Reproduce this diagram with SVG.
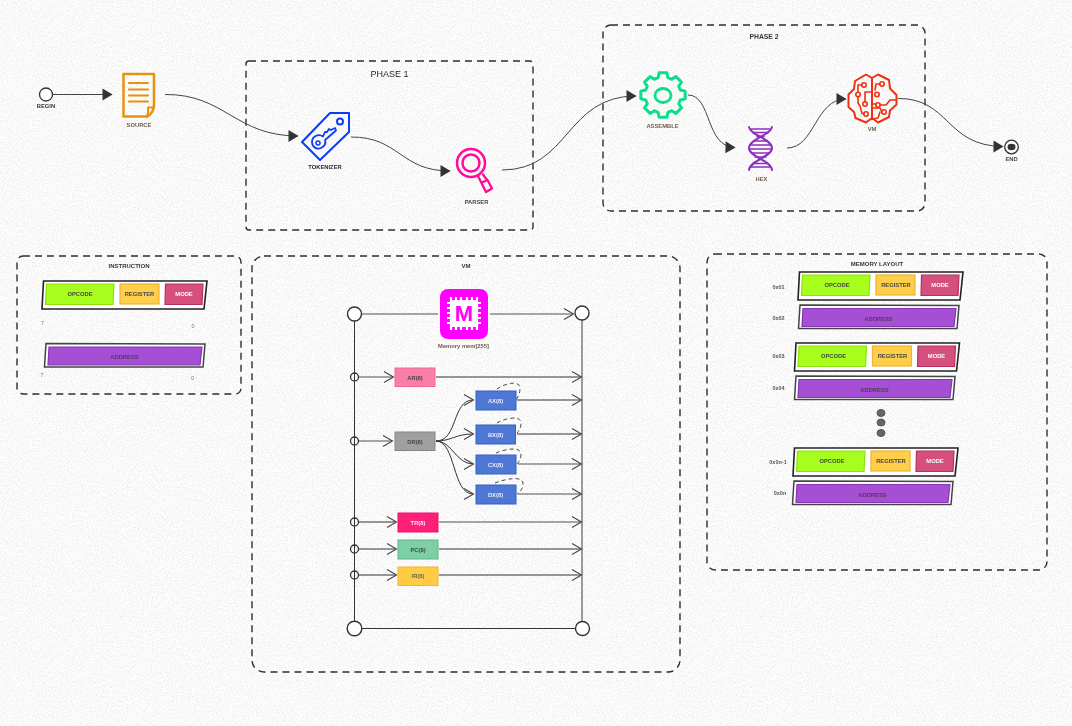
<svg xmlns="http://www.w3.org/2000/svg" width="1072" height="726" viewBox="0 0 1072 726">
<style>
text{font-family:"Liberation Sans",Arial,sans-serif;text-anchor:middle;font-weight:bold;font-size:5.8px;fill:#444;opacity:.98}
.frame{fill:none;stroke:#2e2e2e;stroke-width:1.4;stroke-dasharray:7 5}
.t{font-size:6px;fill:#333}
.lab{fill:#6b5a48}
.outer{fill:#fff;stroke:#222;stroke-width:1.6}
.outer2{fill:#fff;stroke:#444;stroke-width:1.5}
.op{fill:#a8ff1e;stroke:#8ee010;stroke-width:1.2}
.reg{fill:#ffce4a;stroke:#efb32f;stroke-width:1.2}
.mode{fill:#d6507e;stroke:#b8305f;stroke-width:1.2}
.addr{fill:#a64fd4;stroke:#8635b5;stroke-width:1.2}
.box{stroke-width:1}
.blue{fill:#4f78d4;stroke:#3560bf}
.w{fill:#eef}
.bit{font-weight:normal;fill:#777;font-size:5.5px}
.ad{fill:#555;font-size:5.5px}
.solid{fill:none;stroke:#444;stroke-width:1;marker-end:url(#tri)}
.thin{fill:none;stroke:#333;stroke-width:1;marker-end:url(#open)}
.thick{fill:none;stroke:#888;stroke-width:1.6;marker-end:url(#open)}
.bar{fill:none;stroke:#333;stroke-width:1}
.loop{fill:none;stroke:#333;stroke-width:.9;stroke-dasharray:4 3}
.port{fill:#fff;stroke:#333;stroke-width:1.4}
.tap{fill:none;stroke:#333;stroke-width:1.3}
.ic{fill:none;stroke-width:2;stroke-linejoin:round;stroke-linecap:round}
</style>
<defs>
<filter id="noise" x="0" y="0" width="100%" height="100%"><feTurbulence type="fractalNoise" baseFrequency="0.8" numOctaves="2" seed="4"/><feColorMatrix type="matrix" values="0 0 0 0 0.5 0 0 0 0 0.5 0 0 0 0 0.5 0.5 0.5 0 0 -0.42"/></filter>
<marker id="tri" markerUnits="userSpaceOnUse" markerWidth="11" markerHeight="13" refX="9.5" refY="6" orient="auto" overflow="visible"><path d="M0 0L10 6L0 12Z" fill="#333" stroke="none"/></marker>
<marker id="open" markerUnits="userSpaceOnUse" markerWidth="12" markerHeight="12" refX="9" refY="6" orient="auto" overflow="visible"><path d="M0 .5L9.500 6L0 11.500" fill="none" stroke="#444" stroke-width="1.100"/></marker>
</defs>
<rect id="background" width="1072" height="726" fill="#fff"/>
<rect width="1072" height="726" filter="url(#noise)"/>

<g id="frames">
<rect id="phase1" class="frame" x="246" y="61" width="287" height="169" rx="3"/>
<rect id="phase2" class="frame" x="603" y="25" width="322" height="186" rx="8"/>
<rect id="instruction" class="frame" x="17" y="256" width="224" height="138" rx="6"/>
<rect id="vm-frame" class="frame" x="252" y="256" width="428" height="416" rx="12"/>
<rect id="memory-layout" class="frame" x="707" y="254" width="340" height="316" rx="8"/>
<text x="389.500" y="77" style="font-size:9px;font-weight:normal;fill:#222">PHASE 1</text>
<text x="764" y="39" class="t" style="font-size:6.8px">PHASE 2</text>
<text x="129" y="268" class="t">INSTRUCTION</text>
<text x="466" y="268" class="t">VM</text>
<text x="877" y="266" class="t">MEMORY LAYOUT</text>
</g>

<g id="connectors">
<path class="solid" d="M53 94.500H112"/>
<path class="solid" d="M165 94.500C225 94 235 136 298 136"/>
<path class="solid" d="M351 137C400 137 400 171 450 171"/>
<path class="solid" d="M502 170C570 170 565 96 636 96"/>
<path class="solid" d="M688 95C712 95 705 147 735 147.500"/>
<path class="solid" d="M787 148C815 148 815 99 846 99"/>
<path class="solid" d="M898 98.500C950 98 945 146 1003 146.500"/>
<path class="bar" d="M354.500 321V621M361.500 628.500H575.500"/>
<path class="bar" style="stroke:#666;stroke-width:1.3" d="M582 320V621"/>
<path class="bar" style="stroke:#888;stroke-width:1.6" d="M362 314H438"/>
<path class="thick" d="M490 314H573"/>
<path class="thick" d="M359 377H393"/>
<path class="thick" d="M359 441H392"/>
<path class="thin" d="M359 522H396"/>
<path class="thin" d="M359 549H396"/>
<path class="thin" d="M359 575H396"/>
<path class="thin" d="M436 377H581"/>
<path class="thin" d="M517 400H581"/>
<path class="thin" d="M517 434H581"/>
<path class="thick" d="M518 464H581"/>
<path class="thick" d="M518 494H581"/>
<path class="thick" d="M439 522H581"/>
<path class="thin" d="M439 549H581"/>
<path class="thin" d="M439 575H581"/>
<path class="thin" d="M436 441C458 441 452 400 473 400"/>
<path class="thin" d="M436 441C452 441 455 434 473 434"/>
<path class="thin" d="M436 441C452 441 456 464 473 464"/>
<path class="thin" d="M436 441C456 441 452 494 473 494"/>
<path class="loop" d="M497 389C505 383 520 380 520 388C520 394 518 397 516 400"/>
<path class="loop" d="M497 423C505 418 521 415 521 423C521 428 519 431 517 433"/>
<path class="loop" d="M496 453C505 449 521 446 521 454C521 459 519 462 517 464"/>
<path class="loop" d="M495 483C505 479 523 475 523 484C523 489 520 492 517 494"/>
</g>

<g id="begin"><circle cx="46" cy="94.500" r="6.500" fill="#fff" stroke="#333" stroke-width="1.300"/><text x="46" y="108" style="fill:#333">BEGIN</text></g>
<g id="end"><circle cx="1011.500" cy="147" r="6.800" fill="#fff" stroke="#333" stroke-width="1.300"/><ellipse cx="1011.500" cy="147" rx="4" ry="3.300" fill="#333"/><text x="1011.500" y="161" style="fill:#444">END</text></g>

<g id="source">
<path class="ic" stroke="#e8920c" style="stroke-width:2.500" d="M123.500 74H154V105C154 110 151 115 147 116.500H123.500Z"/>
<path class="ic" stroke="#e8920c" d="M147 116.500C149 112 148 108 148 107.500H154"/>
<path class="ic" stroke="#e8920c" style="stroke-width:2.200" d="M129 83H148M129 89.500H148M129 95.500H148M129 101.500H148"/>
<text x="139" y="126.500" class="lab">SOURCE</text>
</g>
<g id="tokenizer">
<path class="ic" stroke="#0a3cff" d="M330 113H349V132L320 160L302 142Z"/>
<circle class="ic" stroke="#0a3cff" cx="340" cy="121.500" r="3"/>
<path class="ic" stroke="#0a3cff" style="stroke-width:1.800" d="M323 136.500C318 133 312 137 312 142C312 147 317 150 321 148C325 146 326 143 325 140L336 130.500L335 128L331 130L329 129L327 132L325 132L323 136.500Z"/>
<circle class="ic" stroke="#0a3cff" style="stroke-width:1.500" cx="318" cy="143" r="2"/>
<text x="325" y="169" style="fill:#223">TOKENIZER</text>
</g>
<g id="parser">
<circle class="ic" stroke="#ff0a9c" style="stroke-width:2.500" cx="471" cy="163" r="14"/>
<circle class="ic" stroke="#ff0a9c" style="stroke-width:2.500" cx="471" cy="163" r="8.500"/>
<path class="ic" stroke="#ff0a9c" style="stroke-width:2.300" d="M478 176L481.500 183L486 192L492 188.500L487.500 180L482 182.500M483 174.500L487 180"/>
<text x="476.500" y="204" class="lab" style="fill:#444">PARSER</text>
</g>
<g id="assemble">
<polygon class="ic" stroke="#0adf8a" style="stroke-width:3" transform="translate(663 95)" points="22.160,3.900 17.300,4.960 15.740,8.730 18.430,12.900 12.900,18.430 8.730,15.740 4.960,17.300 3.900,22.160 -3.900,22.160 -4.960,17.300 -8.730,15.740 -12.900,18.430 -18.430,12.900 -15.740,8.730 -17.300,4.960 -22.160,3.900 -22.160,-3.900 -17.300,-4.960 -15.740,-8.730 -18.430,-12.900 -12.900,-18.430 -8.730,-15.740 -4.960,-17.300 -3.900,-22.160 3.900,-22.160 4.960,-17.300 8.730,-15.740 12.900,-18.430 18.430,-12.900 15.740,-8.730 17.300,-4.960 22.160,-3.900"/>
<ellipse class="ic" stroke="#0adf8a" style="stroke-width:2.800" cx="663" cy="95.500" rx="8" ry="7"/>
<text x="662.500" y="127.500" class="lab">ASSEMBLE</text>
</g>
<g id="hex">
<path class="ic" stroke="#8a2fbc" d="M749 127C750 135 772 139 772 148C772 157 750 160 749 170M772 127C771 135 749 139 749 148C749 157 771 160 772 170"/>
<path class="ic" stroke="#8a2fbc" style="stroke-width:1.500" d="M751 129H770M753 132.500H768M757 136.500H764M754 141H767M750 145H771M750 149H771M752 153H769M755 157H766M754 163.500H767M751 167H770"/>
<text x="761.500" y="180.500" class="lab">HEX</text>
</g>
<g id="vm">
<path class="ic" stroke="#f03010" d="M872 78L866 74.500L855 81L854 89L848.500 94.500V107L854 112L855.500 118L866 122.500L872 118L878 122.500L889 117L890 110.500L896.500 104.500V95L890 88.500L889 80L878 74.500L872 78V118"/>
<g class="ic" stroke="#f03010" style="stroke-width:1.600">
<circle cx="864" cy="85" r="2.200"/><circle cx="858" cy="94.500" r="2.200"/><circle cx="865" cy="104" r="2.200"/><circle cx="866" cy="114" r="2.200"/>
<circle cx="882" cy="84" r="2.200"/><circle cx="877" cy="94.500" r="2.200"/><circle cx="878" cy="105" r="2.200"/><circle cx="884" cy="112" r="2.200"/>
<path d="M862 85H858V92M858 97V103L860 106L862 113.500H864M872 92H865V102M880 84H876L875 90M872 104H876M880 105H886L890 100H896M872 108H880L882 112M872 119L878 118L880 112"/>
</g>
<text x="872" y="131" class="lab">VM</text>
</g>

<g id="memory">
<rect x="440" y="289" width="48" height="50" rx="8" fill="#f0f"/>
<rect x="451" y="300" width="26" height="27" fill="#fff"/>
<path d="M451 297V330M456 297V330M461 297V330M467 297V330M472 297V330M477 297V330M447 303H481M447 308H481M447 313H481M447 318H481M447 323H481" stroke="#fff" stroke-width="2.200"/>
<rect x="451" y="300" width="26" height="27" fill="#fff"/>
<text x="464" y="321" style="font-size:22px;fill:#f0f;opacity:1">M</text>
<text x="463.500" y="348" class="lab">Memory mem[255]</text>
</g>

<g id="ports">
<circle class="port" cx="354.500" cy="314" r="7"/><circle class="port" cx="582" cy="313" r="7"/>
<circle class="port" cx="354.500" cy="628.500" r="7.300"/><circle class="port" cx="582.500" cy="628.500" r="7"/>
<circle class="tap" cx="354.500" cy="377" r="4"/><circle class="tap" cx="354.500" cy="441" r="4"/><circle class="tap" cx="354.500" cy="522" r="4"/><circle class="tap" cx="354.500" cy="549" r="4"/><circle class="tap" cx="354.500" cy="575" r="4"/>
</g>

<g id="ar"><rect class="box" x="395" y="368" width="40" height="18.500" fill="#f97fa8" stroke="#ee6a96"/><text x="415" y="380" style="fill:#444">AR(8)</text></g>
<g id="dr"><rect class="box" x="395" y="432" width="40" height="18.500" fill="#a0a0a0" stroke="#858585"/><text x="415" y="444">DR(8)</text></g>
<g id="ax"><rect class="box blue" x="476" y="391" width="40" height="19"/><text class="w" x="495.500" y="403">AX(8)</text></g>
<g id="bx"><rect class="box blue" x="476" y="425" width="39.500" height="19"/><text class="w" x="495.500" y="437">BX(8)</text></g>
<g id="cx"><rect class="box blue" x="476" y="455" width="40" height="19"/><text class="w" x="495.500" y="467">CX(8)</text></g>
<g id="dx"><rect class="box blue" x="476" y="485" width="40" height="19"/><text class="w" x="495.500" y="497">DX(8)</text></g>
<g id="tr"><rect class="box" x="398" y="513" width="40" height="19" fill="#ff1f78" stroke="#ee1268"/><text class="w" x="418" y="525">TR(8)</text></g>
<g id="pc"><rect class="box" x="398" y="540" width="40" height="19" fill="#7dd0a5" stroke="#62b48a"/><text x="418" y="552">PC(8)</text></g>
<g id="ir"><rect class="box" x="398" y="567" width="40" height="18.500" fill="#ffcc44" stroke="#efb62f"/><text x="418" y="578" style="fill:#665">IR(8)</text></g>

<g id="inst-word">
<polygon class="outer" points="43.500,281 207,281 204,309 42,309"/>
<polygon class="op" points="46.500,284 114,284 113,304.500 45.500,304.500"/><text x="80" y="296">OPCODE</text>
<rect class="reg" x="120" y="284" width="39" height="20"/><text x="139.500" y="296">REGISTER</text>
<polygon class="mode" points="165.500,284 203,284 202,304.500 165,304.500"/><text class="w" x="184" y="296" style="fill:#fff">MODE</text>
</g>
<g id="inst-address">
<polygon class="outer2" points="46,343.500 205,344 203,367 44.500,367"/>
<polygon class="addr" points="49,347 202,347 200,365 48,365"/><text x="124.500" y="359">ADDRESS</text>
</g>
<g id="bits"><text class="bit" x="42.500" y="325">7</text><text class="bit" x="193" y="328">0</text><text class="bit" x="42" y="377">7</text><text class="bit" x="192.500" y="380">0</text></g>

<g id="word-01" transform="translate(756 -9)">
<polygon class="outer" points="43.500,281 207,281 204,309 42,309"/>
<polygon class="op" points="46.500,284 114,284 113,304.500 45.500,304.500"/><text x="81" y="296">OPCODE</text>
<rect class="reg" x="120" y="284" width="39" height="20"/><text x="140" y="296">REGISTER</text>
<polygon class="mode" points="165.500,284 203,284 202,304.500 165,304.500"/><text x="184" y="296" style="fill:#fff">MODE</text>
</g>
<g id="word-02" transform="translate(754 -38.500)">
<polygon class="outer2" points="46,343.500 205,344 203,367 44.500,367"/>
<polygon class="addr" points="49,347 202,347 200,365 48,365"/><text x="124.500" y="359">ADDRESS</text>
</g>
<g id="word-03" transform="translate(752.500 62)">
<polygon class="outer" points="43.500,281 207,281 204,309 42,309"/>
<polygon class="op" points="46.500,284 114,284 113,304.500 45.500,304.500"/><text x="81" y="296">OPCODE</text>
<rect class="reg" x="120" y="284" width="39" height="20"/><text x="140" y="296">REGISTER</text>
<polygon class="mode" points="165.500,284 203,284 202,304.500 165,304.500"/><text x="184" y="296" style="fill:#fff">MODE</text>
</g>
<g id="word-04" transform="translate(750 32.500)">
<polygon class="outer2" points="46,343.500 205,344 203,367 44.500,367"/>
<polygon class="addr" points="49,347 202,347 200,365 48,365"/><text x="124.500" y="359">ADDRESS</text>
</g>
<g id="word-n1" transform="translate(751 167)">
<polygon class="outer" points="43.500,281 207,281 204,309 42,309"/>
<polygon class="op" points="46.500,284 114,284 113,304.500 45.500,304.500"/><text x="81" y="296">OPCODE</text>
<rect class="reg" x="120" y="284" width="39" height="20"/><text x="140" y="296">REGISTER</text>
<polygon class="mode" points="165.500,284 203,284 202,304.500 165,304.500"/><text x="184" y="296" style="fill:#fff">MODE</text>
</g>
<g id="word-n" transform="translate(748 137.500)">
<polygon class="outer2" points="46,343.500 205,344 203,367 44.500,367"/>
<polygon class="addr" points="49,347 202,347 200,365 48,365"/><text x="124.500" y="359">ADDRESS</text>
</g>
<g id="addresses">
<text class="ad" x="778.500" y="289">0x01</text><text class="ad" x="778.500" y="320">0x02</text><text class="ad" x="778.500" y="358">0x03</text><text class="ad" x="778.500" y="390">0x04</text><text class="ad" x="778" y="464">0x0n-1</text><text class="ad" x="780" y="495">0x0n</text>
</g>
<g id="ellipsis" fill="#666" stroke="#555"><ellipse cx="881" cy="413" rx="4" ry="3.500"/><ellipse cx="881" cy="422.500" rx="4" ry="3.500"/><ellipse cx="881" cy="433" rx="4" ry="3.500"/></g>
</svg>
